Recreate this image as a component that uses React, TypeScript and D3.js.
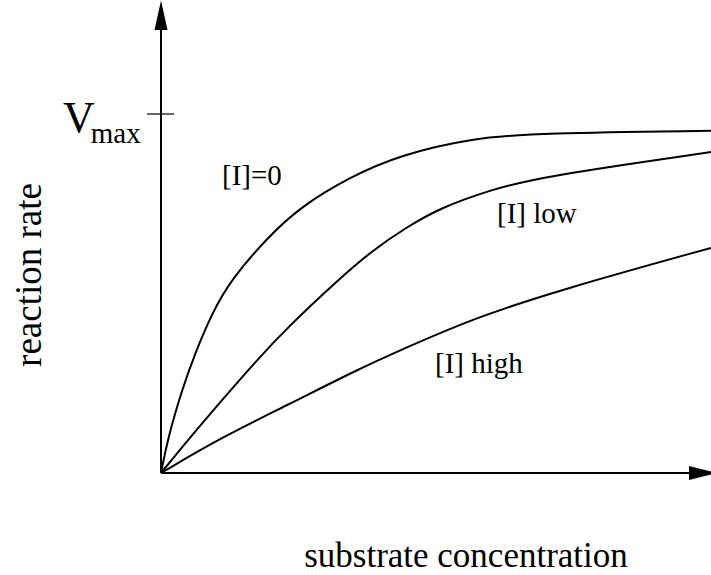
import React from "react";
import * as d3 from "d3";

const W = 711;
const H = 575;

// substrate concentration (arbitrary units) vs reaction rate (fraction of Vmax)
const noInhibitor: [number, number][] = [
  [0, 0], [0.13, 0.1], [0.38, 0.231], [0.62, 0.334], [0.93, 0.446], [1.27, 0.538],
  [1.93, 0.655], [2.53, 0.741], [3.44, 0.825], [4.35, 0.886], [5.67, 0.933],
  [6.89, 0.947], [10, 0.953],
];
const lowInhibitor: [number, number][] = [
  [0, 0], [0.49, 0.092], [1.11, 0.203], [1.71, 0.309], [2.31, 0.407], [3.22, 0.538],
  [3.85, 0.621], [4.47, 0.685], [5.07, 0.738], [5.98, 0.788], [6.89, 0.825], [10, 0.894],
];
const highInhibitor: [number, number][] = [
  [0, 0], [1.11, 0.1], [2.31, 0.19], [3.53, 0.285], [4.47, 0.35], [5.67, 0.43],
  [7.25, 0.51], [10, 0.627],
];
const curveLabels = ["[I]=0", "[I] low", "[I] high"];
const vmaxValue = 1;

const font = "Liberation Serif, Tinos, DejaVu Serif, serif";

export default function App() {
  const x = d3.scaleLinear().domain([0, 10]).range([161, 711]);
  const y = d3.scaleLinear().domain([0, 1]).range([473, 114]);
  const line = d3
    .line<[number, number]>()
    .x((d) => x(d[0]))
    .y((d) => y(d[1]))
    .curve(d3.curveBasis);
  const x0 = x(0);
  const y0 = y(0);
  return (
    <svg
      width={W}
      height={H}
      fontFamily={font}
      style={{ position: "absolute", left: 0, top: 0, background: "#fff" }}
    >
      <rect width={W} height={H} fill="#fff" />
      {/* axes */}
      <line x1={x0} y1={y0} x2={x0} y2={28} stroke="#000" strokeWidth={2} />
      <polygon points={`${x0},0.5 ${x0 - 6.5},30 ${x0 + 6.5},30`} fill="#000" />
      <line x1={x0} y1={y0} x2={692} y2={y0} stroke="#000" strokeWidth={2} />
      <polygon points={`${717},${y0} ${689},${y0 - 7} ${689},${y0 + 7}`} fill="#000" />
      {/* Vmax tick */}
      <line x1={147} x2={174} y1={y(vmaxValue)} y2={y(vmaxValue)} stroke="#000" strokeWidth={1.2} />
      <text x={63} y={132} fontSize={44} fontFamily={font}>
        V
        <tspan dx={-4} dy={11} fontSize={29}>max</tspan>
      </text>
      {/* curves */}
      {[noInhibitor, lowInhibitor, highInhibitor].map((s, i) => (
        <path key={i} d={line(s) || ""} fill="none" stroke="#000" strokeWidth={2} />
      ))}
      <text x={222} y={185} fontSize={29} fontFamily={font}>{curveLabels[0]}</text>
      <text x={497} y={223} fontSize={29} fontFamily={font}>{curveLabels[1]}</text>
      <text x={435} y={373} fontSize={29} fontFamily={font}>{curveLabels[2]}</text>
      {/* axis titles */}
      <text x={466} y={567} textAnchor="middle" fontSize={35} fontFamily={font}>
        substrate concentration
      </text>
      <text
        transform="translate(41,275) rotate(-90)"
        textAnchor="middle"
        fontSize={37}
        fontFamily={font}
      >
        reaction rate
      </text>
    </svg>
  );
}
